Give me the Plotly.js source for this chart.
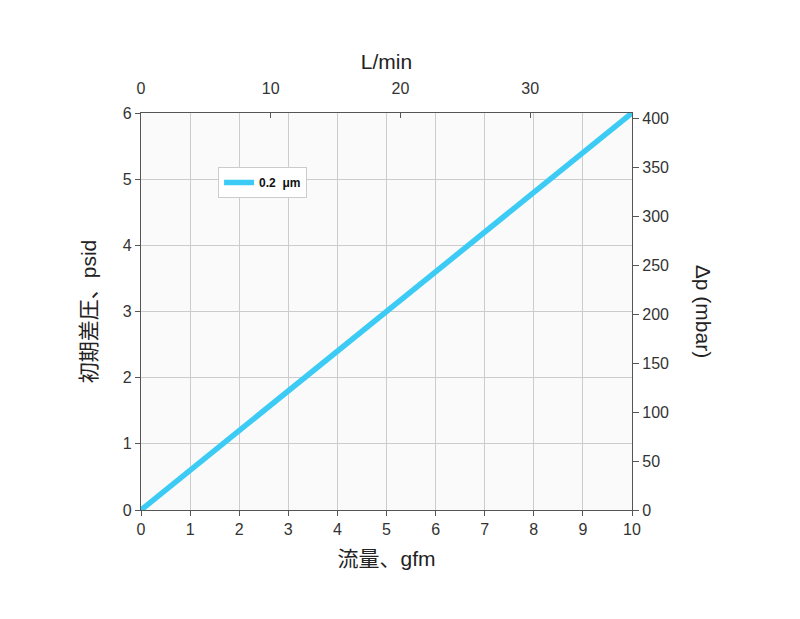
<!DOCTYPE html>
<html>
<head>
<meta charset="utf-8">
<script src="https://cdn.plot.ly/plotly-3.0.1.min.js"></script>
<style>
  html, body { margin: 0; padding: 0; background: #fff; }
  #chart { width: 800px; height: 619px; }
</style>
</head>
<body>
<div id="chart"></div>
<script>
CHART = document.getElementById('chart');

const FONT = 'Liberation Sans, Arial, Noto Sans CJK JP, sans-serif';
const INK = '#333333';

// flow (gfm) vs initial differential pressure (psid)
const flow_gfm = [0, 10];
const dp_psid = [0, 6];
const series_name = '0.2\u00a0\u00a0μm';

// secondary scales
const lpm_max = 37.85;
const mbar_max = 406;

function plot() {
    const trace = [{
        x: flow_gfm,
        y: dp_psid,
        name: series_name,
        type: 'scatter',
        mode: 'lines',
        line: { color: '#3ccbf4', width: 5.5 }
    }, {
        // invisible trace so the top/right axes get drawn
        x: flow_gfm.map(v => v * lpm_max / 10),
        y: dp_psid.map(v => v * mbar_max / 6),
        xaxis: 'x2',
        yaxis: 'y2',
        type: 'scatter',
        mode: 'lines',
        line: { width: 0 },
        opacity: 0,
        showlegend: false,
        hoverinfo: 'skip'
    }];

    const axis_common = {
        showline: true,
        linecolor: '#555555',
        linewidth: 1.2,
        ticks: 'outside',
        ticklen: 5,
        tickcolor: '#555555',
        tickfont: { family: FONT, size: 16, color: INK },
        zeroline: false
    };

    const title_font = { family: FONT, size: 21, color: '#222' };

    const layout = {
        width: 800,
        height: 619,
        paper_bgcolor: '#ffffff',
        plot_bgcolor: '#fafafa',
        margin: { l: 141, r: 168, t: 113, b: 109 },
        font: { family: FONT, color: INK },
        showlegend: true,
        legend: {
            x: 0.157, y: 0.864,
            xanchor: 'left', yanchor: 'top',
            bgcolor: '#ffffff',
            bordercolor: '#cccccc',
            borderwidth: 1,
            font: { family: FONT, size: 12, color: '#111111', weight: 'bold' },
            itemwidth: 30
        },
        xaxis: Object.assign({}, axis_common, {
            range: [0, 10],
            dtick: 1,
            showgrid: true,
            gridcolor: '#cccccc',
            title: { text: '流量、gfm', font: title_font, standoff: 14 }
        }),
        yaxis: Object.assign({}, axis_common, {
            range: [0, 6],
            dtick: 1,
            showgrid: true,
            gridcolor: '#cccccc',
            title: { text: '初期差圧、psid', font: title_font, standoff: 20 }
        }),
        xaxis2: Object.assign({}, axis_common, {
            overlaying: 'x',
            side: 'top',
            anchor: 'y',
            range: [0, lpm_max],
            dtick: 10,
            ticks: 'inside',
            ticklabelstandoff: 12,
            showgrid: false,
            title: { text: 'L/min', font: title_font, standoff: 4 }
        }),
        yaxis2: Object.assign({}, axis_common, {
            overlaying: 'y',
            side: 'right',
            anchor: 'x',
            range: [0, mbar_max],
            dtick: 50,
            ticklen: 6,
            showgrid: false
        }),
        annotations: [{
            text: 'Δp (mbar)',
            xref: 'paper', yref: 'paper',
            x: 1.146, y: 0.5,
            xanchor: 'center', yanchor: 'middle',
            textangle: 90,
            showarrow: false,
            font: title_font
        }]
    };

    Plotly.newPlot(CHART, trace, layout, { displayModeBar: false });
}

plot();
</script>
</body>
</html>
